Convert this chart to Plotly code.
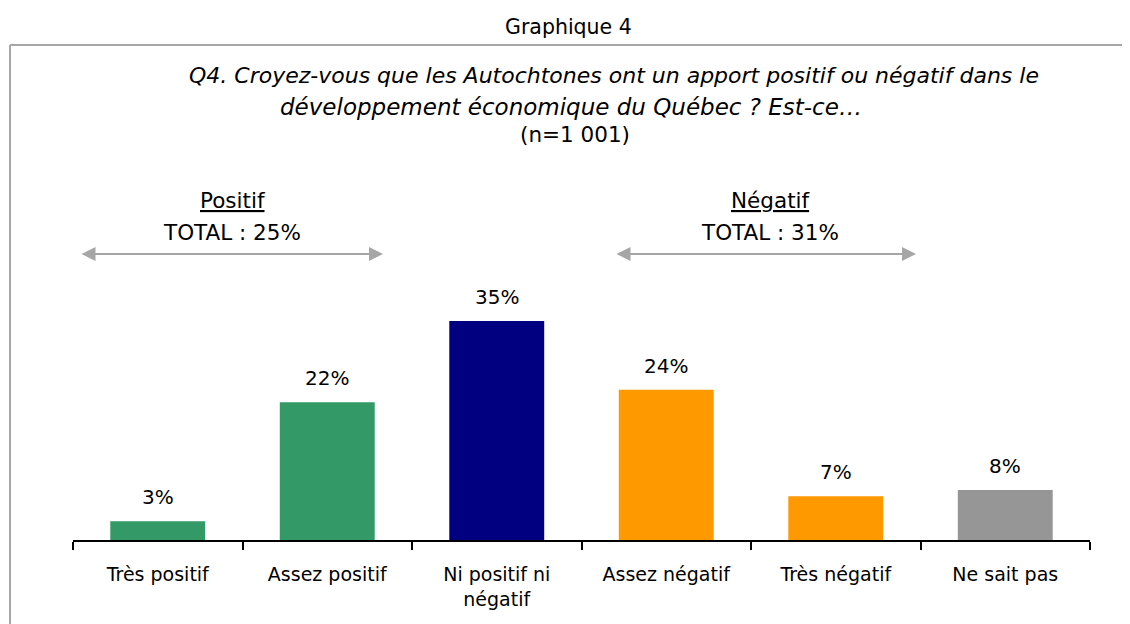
import plotly.graph_objects as go

categories = ["Très positif", "Assez positif", "Ni positif ni<br>négatif", "Assez négatif", "Très négatif", "Ne sait pas"]
values = [3, 22, 35, 24, 7, 8]
value_labels = ["3%", "22%", "35%", "24%", "7%", "8%"]
colors = ["#339966", "#339966", "#000080", "#FF9900", "#FF9900", "#969696"]

groups = ["Positif", "Négatif"]
group_totals = ["TOTAL : 25%", "TOTAL : 31%"]

W, H = 1130, 624
OFF = 8  # page body margin offset
PLOT_L, PLOT_R, PLOT_T, PLOT_B = 73, 1090, 150, 540  # target screen pixels
ML = PLOT_L - OFF
MR = W - (PLOT_R - OFF)
MT = PLOT_T - OFF
MB = H - (PLOT_B - OFF)
PW = W - ML - MR
PH = H - MT - MB
PX_PER_PCT = 6.26
YMAX = PH / PX_PER_PCT

def xp(X):
    return (X - PLOT_L) / PW

def yp(Y):
    return (PLOT_B - Y) / PH

FONT = "DejaVu Sans"

fig = go.Figure()
fig.add_trace(go.Bar(
    x=categories, y=values,
    marker=dict(color=colors, line=dict(width=0)),
    width=0.56, hoverinfo="skip",
))

annotations = []
for c, v, t in zip(categories, values, value_labels):
    annotations.append(dict(x=c, y=v, xref="x", yref="y", text=t, showarrow=False,
                            xanchor="center", yanchor="bottom", yshift=10,
                            font=dict(family=FONT, size=20, color="#000")))

# titles
annotations += [
    dict(x=xp(568), y=yp(27), xref="paper", yref="paper", text="Graphique 4", showarrow=False,
         font=dict(family=FONT, size=20.5, color="#000"), xanchor="center", yanchor="middle"),
    dict(x=xp(614), y=yp(75), xref="paper", yref="paper",
         text="<i>Q4. Croyez-vous que les Autochtones ont un apport positif ou négatif dans le</i>",
         showarrow=False, font=dict(family=FONT, size=22, color="#000"), xanchor="center", yanchor="middle"),
    dict(x=xp(571), y=yp(107), xref="paper", yref="paper",
         text="<i>développement économique du Québec ? Est-ce…</i>",
         showarrow=False, font=dict(family=FONT, size=23, color="#000"), xanchor="center", yanchor="middle"),
    dict(x=xp(575), y=yp(135), xref="paper", yref="paper", text="(n=1 001)",
         showarrow=False, font=dict(family=FONT, size=21.5, color="#000"), xanchor="center", yanchor="middle"),
]

group_centers = [232, 770]
arrow_spans = [(80, 383), (615, 916)]
for g, tot, cx, (a0, a1) in zip(groups, group_totals, group_centers, arrow_spans):
    annotations.append(dict(x=xp(cx), y=yp(200), xref="paper", yref="paper",
                            text="<u>" + g + "</u>", showarrow=False,
                            font=dict(family=FONT, size=21.5, color="#000"),
                            xanchor="center", yanchor="middle"))
    annotations.append(dict(x=xp(cx), y=yp(232), xref="paper", yref="paper",
                            text=tot, showarrow=False,
                            font=dict(family=FONT, size=21.5, color="#000"),
                            xanchor="center", yanchor="middle"))
    annotations.append(dict(x=xp(a1), y=yp(254), xref="paper", yref="paper",
                            ax=-(a1 - a0), ay=0, axref="pixel", ayref="pixel",
                            text="", showarrow=True, arrowhead=2, arrowside="end+start",
                            arrowsize=1.4, arrowwidth=2, arrowcolor="#A6A6A6"))

shapes = [
    dict(type="line", xref="paper", yref="paper", x0=xp(10), x1=xp(1140), y0=yp(45), y1=yp(45),
         line=dict(color="#A6A6A6", width=2)),
    dict(type="line", xref="paper", yref="paper", x0=xp(10), x1=xp(10), y0=yp(45), y1=yp(640),
         line=dict(color="#A6A6A6", width=2)),
]

fig.update_layout(
    width=W, height=H,
    margin=dict(l=ML, r=MR, t=MT, b=MB, pad=0),
    paper_bgcolor="white", plot_bgcolor="white",
    showlegend=False,
    annotations=annotations, shapes=shapes,
    xaxis=dict(
        type="category", categoryorder="array", categoryarray=categories,
        range=[-0.5, len(categories) - 0.5], tickson="boundaries",
        showline=True, linecolor="#000", linewidth=2,
        ticks="outside", ticklen=8, tickwidth=2, tickcolor="#000",
        showgrid=False, zeroline=False, ticklabelstandoff=16,
        tickfont=dict(family=FONT, size=19, color="#000"),
        fixedrange=True,
    ),
    yaxis=dict(range=[0, YMAX], visible=False, showgrid=False, zeroline=False, fixedrange=True),
)

fig.write_html("out.html")
